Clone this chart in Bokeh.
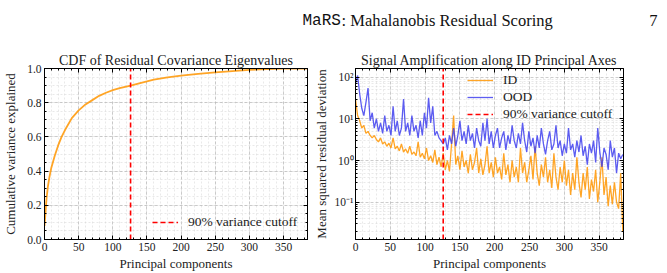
from bokeh.plotting import figure
from bokeh.layouts import column, row
from bokeh.models import (Label, Legend, LegendItem, SingleIntervalTicker, FixedTicker,
                          LinearAxis, LogAxis, Range1d, CustomJSTickFormatter)
from bokeh.embed import file_html
from bokeh.resources import INLINE

# ---------------- data ----------------
cdf_x = [0, 1, 2, 3, 5, 7, 10, 15, 20, 25, 30, 40, 50, 60, 70, 80, 90, 100, 110, 126,
         140, 160, 180, 200, 225, 250, 275, 300, 325, 350, 384]
cdf_y = [0.08, 0.13, 0.19, 0.24, 0.31, 0.36, 0.42, 0.49, 0.55, 0.60, 0.64, 0.71, 0.755,
         0.79, 0.815, 0.84, 0.858, 0.873, 0.885, 0.90, 0.915, 0.935, 0.948, 0.958, 0.968,
         0.977, 0.985, 0.992, 0.996, 0.999, 1.0]

comp_x = list(range(0, 385, 3))
id_vals = [30, 12, 9, 6, 7, 4.5, 5, 4, 3.5, 4,
           3.2, 2.8, 3.5, 2.5, 2.8, 2.2, 2.6, 2, 3.5, 1.9,
           2.2, 1.7, 2.5, 1.6, 1.9, 1.5, 2.2, 1.4, 1.6, 1.3,
           2.8, 1.2, 1.5, 1.1, 2, 1, 1.3, 0.9, 1.8, 0.8,
           1.2, 0.7, 1.5, 0.6, 1, 0.55, 2.5, 12, 0.8, 1.3,
           0.6, 1.7, 0.7, 1, 0.5, 1.4, 0.6, 0.9, 2, 0.5,
           1.1, 0.45, 0.8, 2.2, 0.5, 0.9, 0.4, 1.2, 0.5, 0.7,
           0.35, 1.5, 0.45, 0.8, 0.3, 1, 0.4, 0.7, 0.3, 2,
           0.5, 0.9, 0.3, 0.6, 1.3, 0.35, 2.2, 0.5, 0.25, 0.8,
           0.4, 1.2, 0.3, 0.6, 0.22, 1.5, 0.4, 0.2, 0.7, 0.3,
           1, 0.25, 0.6, 0.15, 0.5, 0.2, 1.2, 0.3, 0.13, 0.5,
           0.2, 0.7, 0.12, 0.35, 0.18, 0.6, 0.1, 0.3, 1.2, 0.15,
           0.4, 0.08, 0.25, 0.09, 0.3, 0.1, 0.07, 0.5, 0.02]
ood_vals = [70, 110, 40, 18, 12, 25, 55, 9, 14, 6,
            10, 5, 8, 4.5, 12, 5, 7, 4, 20, 5,
            9, 4, 6, 30, 5, 8, 4, 12, 5, 7,
            3.5, 9, 4, 14, 6, 32, 8, 20, 4, 5,
            3.5, 3, 2.5, 3.5, 1.8, 4, 2.5, 6, 2.2, 4,
            9, 3, 5, 2.5, 7, 3, 4.5, 2, 6, 3,
            2.2, 8, 3, 10, 2.5, 5, 2, 4, 6, 2,
            3.5, 5, 1.8, 4, 2.5, 7, 3, 2, 4.5, 2.5,
            8, 3, 1.6, 5, 2.2, 3.5, 1.5, 4, 2, 6,
            2.5, 1.4, 3, 5, 1.8, 2.5, 7, 2, 3, 1.3,
            2.5, 1.5, 6, 1.8, 2.5, 1.2, 3, 1.6, 4, 1.3,
            2.2, 0.8, 2.5, 1.5, 3, 0.9, 6, 1.6, 0.7, 2,
            1.4, 0.6, 3, 1.2, 2, 0.5, 1.5, 1.1, 1.4]
cutoff = 126

x_lim = (0, 385)
cdf_lim = (0, 1)
log_lim = (0.0127, 162)
log_major = [0.01, 0.1, 1, 10, 100]
log_minor = [m * d for d in [0.01, 0.1, 1, 10, 100] for m in range(2, 10)]

# ---------------- style ----------------
FONT = "Liberation Serif"
ORANGE = "#FF9500"
BLUE = "#4040EE"
RED = "#FF0000"
EMPTY = CustomJSTickFormatter(code="return '';")


def style_axis(ax, labels=True):
    ax.major_tick_in = 4
    ax.major_tick_out = 0
    ax.minor_tick_in = 2
    ax.minor_tick_out = 0
    ax.axis_line_color = "black"
    ax.major_tick_line_color = "black"
    ax.minor_tick_line_color = "black"
    ax.major_label_text_font = FONT
    ax.major_label_text_font_size = "11.5px" if labels else "1px"
    ax.major_label_text_color = "#222222"
    ax.major_label_standoff = 3 if labels else 0
    ax.axis_label_text_font = FONT
    ax.axis_label_text_font_size = "13px"
    ax.axis_label_text_font_style = "normal"
    ax.axis_label_text_color = "#222222"
    if not labels:
        ax.formatter = EMPTY


def style_fig(p):
    p.outline_line_color = "black"
    p.outline_line_width = 1
    p.title.text_font = FONT
    p.title.text_font_size = "14px"
    p.title.text_font_style = "normal"
    p.title.text_color = "#222222"
    p.title.align = "center"
    p.title.standoff = 1
    for g in (p.xgrid, p.ygrid):
        g.grid_line_color = "#b8b8b8"
        g.grid_line_dash = "3 2"
        g.grid_line_width = 0.7
        g.minor_grid_line_color = "#d2d2d2"
        g.minor_grid_line_dash = "2 2"
        g.minor_grid_line_width = 0.5


def make_legend(items, loc):
    return Legend(items=items, location=loc, padding=0, margin=0, spacing=1,
                  glyph_width=26, glyph_height=14, label_height=14, label_standoff=10,
                  border_line_alpha=0, background_fill_alpha=0,
                  label_text_font=FONT, label_text_font_size="13.5px",
                  label_text_color="#222222")


# ---------------- header ----------------
hdr = figure(width=667, height=40, x_range=Range1d(0, 667), y_range=Range1d(0, 40),
             toolbar_location=None, output_backend="svg", x_axis_type=None,
             y_axis_type=None, min_border=0)
hdr.outline_line_color = None
hdr.grid.visible = False
hdr.add_layout(Label(x=302, y=20, text="MaRS", text_font="Liberation Mono",
                     text_font_size="16px", text_baseline="alphabetic", text_color="#111111"))
hdr.add_layout(Label(x=341, y=20, text=": Mahalanobis Residual Scoring", text_font=FONT,
                     text_font_size="16.5px", text_baseline="alphabetic", text_color="#111111"))
hdr.add_layout(Label(x=657, y=20, text="7", text_font=FONT, text_align="right",
                     text_font_size="16.5px", text_baseline="alphabetic", text_color="#111111"))

# ---------------- left: CDF ----------------
xt = SingleIntervalTicker(interval=50, num_minor_ticks=5)
yt = SingleIntervalTicker(interval=0.2, num_minor_ticks=4)
p1 = figure(width=310, height=233, x_range=Range1d(*x_lim), y_range=Range1d(*cdf_lim),
            toolbar_location=None, output_backend="svg",
            title="CDF of Residual Covariance Eigenvalues",
            min_border_left=38, min_border_right=3, min_border_top=28, min_border_bottom=34)
style_fig(p1)
p1.xaxis.ticker = xt
p1.yaxis.ticker = yt
p1.xaxis.axis_label = "Principal components"
p1.yaxis.axis_label = "Cumulative variance explained"
p1.yaxis.formatter = CustomJSTickFormatter(code="return tick.toFixed(1);")
for ax in p1.axis:
    style_axis(ax)
p1.xaxis.axis_label_standoff = 2
p1.yaxis.axis_label_standoff = 6
ax_t = LinearAxis(ticker=xt)
ax_r = LinearAxis(ticker=yt)
style_axis(ax_t, labels=False)
style_axis(ax_r, labels=False)
p1.add_layout(ax_t, "above")
p1.add_layout(ax_r, "right")

p1.line(cdf_x, cdf_y, line_color=ORANGE, line_width=1.8, line_alpha=0.85)
r_cut1 = p1.line([cutoff, cutoff], list(cdf_lim), line_color=RED, line_width=1.6,
                 line_dash="5 3")
p1.add_layout(make_legend([LegendItem(label="90% variance cutoff", renderers=[r_cut1])],
                          (108, 9)))

# ---------------- right: signal amplification ----------------
xt2 = SingleIntervalTicker(interval=50, num_minor_ticks=5)
lt = FixedTicker(ticks=log_major, minor_ticks=log_minor)
p2 = figure(width=357, height=233, x_range=Range1d(*x_lim), y_range=Range1d(*log_lim),
            y_axis_type="log", toolbar_location=None, output_backend="svg",
            title="Signal Amplification along ID Principal Axes",
            min_border_left=44, min_border_right=44, min_border_top=28, min_border_bottom=34)
style_fig(p2)
p2.xaxis.ticker = xt2
p2.yaxis.ticker = lt
p2.xaxis.axis_label = "Principal components"
p2.yaxis.axis_label = "Mean squared residual deviation"
p2.yaxis.formatter = CustomJSTickFormatter(code="""
const sup = {'-':'\u207b','0':'\u2070','1':'\u00b9','2':'\u00b2','3':'\u00b3'};
const e = Math.round(Math.log10(tick));
return '10' + String(e).split('').map(c => sup[c]).join('');
""")
for ax in p2.axis:
    style_axis(ax)
p2.yaxis.major_label_standoff = 2
p2.xaxis.axis_label_standoff = 2
p2.yaxis.axis_label_standoff = 3
ax_t2 = LinearAxis(ticker=xt2)
ax_r2 = LogAxis(ticker=lt)
style_axis(ax_t2, labels=False)
style_axis(ax_r2, labels=False)
p2.add_layout(ax_t2, "above")
p2.add_layout(ax_r2, "right")

r_id = p2.line(comp_x, id_vals, line_color=ORANGE, line_width=1.3, line_alpha=0.85)
r_ood = p2.line(comp_x, ood_vals, line_color=BLUE, line_width=1.3, line_alpha=0.85)
r_cut2 = p2.line([cutoff, cutoff], list(log_lim), line_color=RED, line_width=1.6,
                 line_dash="5 3")
p2.add_layout(make_legend([LegendItem(label="ID", renderers=[r_id]),
                           LegendItem(label="OOD", renderers=[r_ood]),
                           LegendItem(label="90% variance cutoff", renderers=[r_cut2])],
                          (112, 117)))

layout = column(hdr, row(p1, p2, spacing=0), spacing=0)
with open("out.html", "w", encoding="utf-8") as f:
    f.write(file_html(layout, INLINE))
